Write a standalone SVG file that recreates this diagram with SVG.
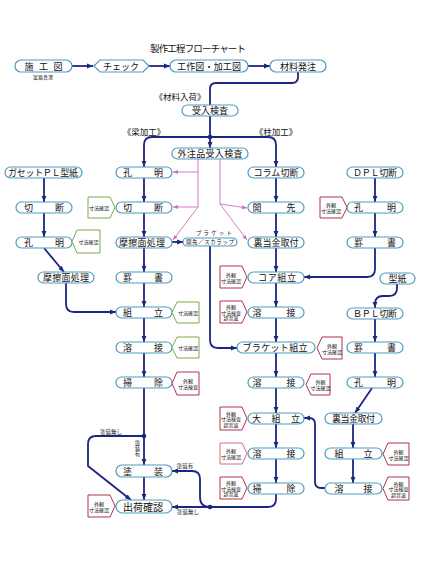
<svg xmlns="http://www.w3.org/2000/svg" width="421" height="578" viewBox="0 0 421 578">
<style>
.box{fill:#fff;stroke:#4a9cc0;stroke-width:1.2}
.t{font-family:"Noto Sans CJK JP","Noto Sans CJK SC",sans-serif;font-size:9px;fill:#111;text-anchor:middle;dominant-baseline:central}
.s{font-size:5px}
.m{font-size:5.5px}
.k{font-size:8.5px}
.v{writing-mode:vertical-rl}
.c{fill:none;stroke:#1c2580;stroke-width:1.8}
.p{fill:none;stroke:#d46bc0;stroke-width:0.9}
.tg{fill:#fff;stroke:#7aab45;stroke-width:1}
.tr{fill:#fff;stroke:#b3304e;stroke-width:1}
.tp{fill:#fff;stroke:#d0707f;stroke-width:1}
.dot{fill:#1c2580}
</style>
<defs>
<marker id="a" viewBox="0 0 10 10" refX="10" refY="5" markerWidth="6" markerHeight="6" orient="auto" markerUnits="userSpaceOnUse"><path d="M0,1 L10,5 L0,9 z" fill="#1c2580"/></marker>
<marker id="pa" viewBox="0 0 10 10" refX="10" refY="5" markerWidth="5" markerHeight="5" orient="auto" markerUnits="userSpaceOnUse"><path d="M0,1 L10,5 L0,9 z" fill="#d46bc0"/></marker>
</defs>
<rect width="421" height="578" fill="#fff"/>
<text class="t" x="198" y="48" style="font-size:9.5px" textLength="96">製作工程フローチャート</text>

<g id="connectors">
<path class="c" marker-end="url(#a)" d="M72,66 H93"/>
<path class="c" marker-end="url(#a)" d="M149,66 H170"/>
<path class="c" marker-end="url(#a)" d="M248,66 H270"/>
<path class="c" d="M298,72 V77 Q298,83 292,83 H216 Q210,83 210,89 V105"/>
<path class="c" marker-end="url(#a)" d="M210,116 V148"/>
<path class="c" marker-end="url(#a)" d="M210,137 H152 Q144,137 144,145 V167"/>
<path class="c" marker-end="url(#a)" d="M210,137 H268 Q276,137 276,145 V167"/>
<path class="c" marker-end="url(#a)" d="M144,178 V202"/>
<path class="c" marker-end="url(#a)" d="M144,213 V237"/>
<path class="c" marker-end="url(#a)" d="M144,248 V272"/>
<path class="c" marker-end="url(#a)" d="M144,283 V307"/>
<path class="c" marker-end="url(#a)" d="M144,318 V342"/>
<path class="c" marker-end="url(#a)" d="M144,353 V377"/>
<path class="c" marker-end="url(#a)" d="M144,388 V465"/>
<path class="c" marker-end="url(#a)" d="M144,477 V500"/>
<path class="c" marker-end="url(#a)" d="M144,436 H96 Q88,436 88,444 V466 L131,500"/>
<path class="c" marker-end="url(#a)" d="M210,507 H172"/>
<path class="c" marker-end="url(#a)" d="M210,507 Q200,507 200,497 V479 Q200,471 192,471 H172"/>
<path class="c" d="M276,494 V499 Q276,507 268,507 H210"/>
<path class="c" marker-end="url(#a)" d="M276,178 V202"/>
<path class="c" marker-end="url(#a)" d="M276,213 V237"/>
<path class="c" marker-end="url(#a)" d="M276,248 V272"/>
<path class="c" marker-end="url(#a)" d="M276,283 V307"/>
<path class="c" marker-end="url(#a)" d="M276,318 V342"/>
<path class="c" marker-end="url(#a)" d="M276,353 V377"/>
<path class="c" marker-end="url(#a)" d="M276,388 V413"/>
<path class="c" marker-end="url(#a)" d="M276,424 V448"/>
<path class="c" marker-end="url(#a)" d="M276,459 V483"/>
<path class="c" marker-end="url(#a)" d="M210,246 V340 Q210,348 218,348 H237"/>
<path class="c" marker-end="url(#a)" d="M172,242 H183"/>
<path class="c" marker-end="url(#a)" d="M44,178 V202"/>
<path class="c" marker-end="url(#a)" d="M44,213 V237"/>
<path class="c" marker-end="url(#a)" d="M44,248 L64,272"/>
<path class="c" marker-end="url(#a)" d="M66,283 V304 Q66,312 74,312 H116"/>
<path class="c" marker-end="url(#a)" d="M375,178 V202"/>
<path class="c" marker-end="url(#a)" d="M375,213 V237"/>
<path class="c" marker-end="url(#a)" d="M375,248 V269 Q375,277 367,277 H304"/>
<path class="c" marker-end="url(#a)" d="M397,284 V288 Q397,296 389,296 H383 Q375,296 375,304 V308"/>
<path class="c" marker-end="url(#a)" d="M375,319 V342"/>
<path class="c" marker-end="url(#a)" d="M375,353 V377"/>
<path class="c" marker-end="url(#a)" d="M372,388 L355,413"/>
<path class="c" marker-end="url(#a)" d="M353,424 V448"/>
<path class="c" marker-end="url(#a)" d="M353,459 V483"/>
<path class="c" marker-end="url(#a)" d="M325,488 H321 Q315,488 315,482 V424 Q315,418 309,418 H304"/>
<path class="p" d="M198,159 V207 L173,240" marker-end="url(#pa)"/>
<path class="p" marker-end="url(#pa)" d="M198,172 H173"/>
<path class="p" marker-end="url(#pa)" d="M198,207 H173"/>
<path class="p" marker-end="url(#pa)" d="M220,159 V204 L247,208"/>
<path class="p" marker-end="url(#pa)" d="M220,204 L247,240"/>
<circle class="dot" cx="210" cy="137" r="2.3"/>
<circle class="dot" cx="144" cy="436" r="2.3"/>
<circle class="dot" cx="210" cy="507" r="2.3"/>
<text class="t m" x="111" y="432">塗装無し</text>
<text class="t m v" x="137.5" y="448">塗装有</text>
<text class="t m" x="185" y="466">塗装有</text>
<text class="t m" x="188" y="512">塗装無し</text>
<text class="t m" x="214" y="233" textLength="36">ブラケット</text>
</g>

<g id="n-sekouzu"><rect class="box" x="15" y="60" width="57" height="12" rx="6"/><text class="t" x="43.5" y="66" textLength="38">施工図</text><text class="t s" x="43" y="76">富島真澤</text></g>
<g id="n-check"><polygon class="box" points="94,66 100,60 143,60 149,66 143,72 100,72"/><text class="t" x="121" y="66" textLength="36">チェック</text></g>
<g id="n-kousakuzu"><rect class="box" x="170" y="60" width="78" height="12" rx="6"/><text class="t" x="209" y="66" textLength="64">工作図・加工図</text></g>
<g id="n-hacchu"><rect class="box" x="270" y="60" width="56" height="12" rx="6"/><text class="t" x="298" y="66">材料発注</text></g>
<text class="t k" x="180" y="96">《材料入荷》</text>
<g id="n-ukeire"><rect class="box" x="182" y="105" width="56" height="11" rx="5.5"/><text class="t" x="210" y="110.5">受入検査</text></g>
<text class="t k" x="144" y="131">《梁加工》</text>
<text class="t k" x="276" y="131">《柱加工》</text>
<g id="n-gaichu"><rect class="box" x="172" y="148" width="76" height="11" rx="5.5"/><text class="t" x="210" y="153.5" textLength="65">外注品受入検査</text></g>

<g id="n-b-koumei"><rect class="box" x="116" y="167" width="56" height="11" rx="5.5"/><text class="t" x="143" y="172.5" textLength="40">孔明</text></g>
<g id="n-b-setsudan"><rect class="box" x="116" y="202" width="56" height="11" rx="5.5"/><text class="t" x="143" y="207.5" textLength="40">切断</text></g>
<g id="n-b-masatsu"><rect class="box" x="116" y="237" width="56" height="11" rx="5.5"/><text class="t" x="142" y="242.5" textLength="46">摩擦面処理</text></g>
<g id="n-b-kegaki"><rect class="box" x="116" y="272" width="56" height="11" rx="5.5"/><text class="t" x="143" y="277.5" textLength="40">罫書</text></g>
<g id="n-b-kumitate"><rect class="box" x="116" y="307" width="56" height="11" rx="5.5"/><text class="t" x="143" y="312.5" textLength="40">組立</text></g>
<g id="n-b-yousetsu"><rect class="box" x="116" y="342" width="56" height="11" rx="5.5"/><text class="t" x="143" y="347.5" textLength="40">溶接</text></g>
<g id="n-b-souji"><rect class="box" x="116" y="377" width="56" height="11" rx="5.5"/><text class="t" x="143" y="382.5" textLength="40">掃除</text></g>
<g id="n-tosou"><rect class="box" x="116" y="465" width="56" height="12" rx="6"/><text class="t" x="143" y="471" textLength="40">塗装</text></g>
<g id="n-shukka"><rect class="box" x="116" y="500" width="56" height="13" rx="6.5"/><text class="t" x="143" y="506.5" style="font-size:10px" textLength="40">出荷確認</text></g>

<g id="n-g-kata"><rect class="box" x="5" y="167" width="77" height="11" rx="5.5"/><text class="t" x="43" y="172.5" textLength="70">ガセットＰＬ型紙</text></g>
<g id="n-g-setsudan"><rect class="box" x="16" y="202" width="56" height="11" rx="5.5"/><text class="t" x="44" y="207.5" textLength="40">切断</text></g>
<g id="n-g-koumei"><rect class="box" x="16" y="237" width="56" height="11" rx="5.5"/><text class="t" x="44" y="242.5" textLength="40">孔明</text></g>
<g id="n-g-masatsu"><rect class="box" x="38" y="272" width="56" height="11" rx="5.5"/><text class="t" x="66" y="277.5" textLength="46">摩擦面処理</text></g>

<g id="n-bracket-kaisaki"><rect class="box" x="183" y="238" width="54" height="8" rx="4"/><text class="t" x="210" y="242" style="font-size:5.5px" textLength="48">開先／スカラップ</text></g>

<g id="n-c-column"><rect class="box" x="248" y="167" width="56" height="11" rx="5.5"/><text class="t" x="276" y="172.5" textLength="45">コラム切断</text></g>
<g id="n-c-kaisaki"><rect class="box" x="248" y="202" width="56" height="11" rx="5.5"/><text class="t" x="274" y="207.5" textLength="43">開先</text></g>
<g id="n-c-uraate"><rect class="box" x="248" y="237" width="56" height="11" rx="5.5"/><text class="t" x="276" y="242.5" textLength="45">裏当金取付</text></g>
<g id="n-c-core"><rect class="box" x="248" y="272" width="56" height="11" rx="5.5"/><text class="t" x="277" y="277.5" textLength="38">コア組立</text></g>
<g id="n-c-yousetsu1"><rect class="box" x="248" y="307" width="56" height="11" rx="5.5"/><text class="t" x="274" y="312.5" textLength="43">溶接</text></g>
<g id="n-c-bracket"><rect class="box" x="237" y="342" width="78" height="11" rx="5.5"/><text class="t" x="275" y="347.5" textLength="65">ブラケット組立</text></g>
<g id="n-c-yousetsu2"><rect class="box" x="248" y="377" width="56" height="11" rx="5.5"/><text class="t" x="274" y="382.5" textLength="43">溶接</text></g>
<g id="n-c-ookumi"><rect class="box" x="248" y="413" width="56" height="11" rx="5.5"/><text class="t" x="276" y="418.5" textLength="48">大組立</text></g>
<g id="n-c-yousetsu3"><rect class="box" x="248" y="448" width="56" height="11" rx="5.5"/><text class="t" x="274" y="453.5" textLength="43">溶接</text></g>
<g id="n-c-souji"><rect class="box" x="248" y="483" width="56" height="11" rx="5.5"/><text class="t" x="274" y="488.5" textLength="43">掃除</text></g>

<g id="n-d-dpl"><rect class="box" x="347" y="167" width="56" height="11" rx="5.5"/><text class="t" x="375" y="172.5" textLength="44">ＤＰＬ切断</text></g>
<g id="n-d-koumei"><rect class="box" x="347" y="202" width="56" height="11" rx="5.5"/><text class="t" x="375" y="207.5" textLength="42">孔明</text></g>
<g id="n-d-kegaki"><rect class="box" x="347" y="237" width="56" height="11" rx="5.5"/><text class="t" x="375" y="242.5" textLength="42">罫書</text></g>
<g id="n-katagami"><rect class="box" x="380" y="273" width="35" height="11" rx="5.5"/><text class="t" x="397.5" y="278.5">型紙</text></g>
<g id="n-d-bpl"><rect class="box" x="347" y="308" width="56" height="11" rx="5.5"/><text class="t" x="375" y="313.5" textLength="44">ＢＰＬ切断</text></g>
<g id="n-d-kegaki2"><rect class="box" x="347" y="342" width="56" height="11" rx="5.5"/><text class="t" x="375" y="347.5" textLength="42">罫書</text></g>
<g id="n-d-koumei2"><rect class="box" x="347" y="377" width="56" height="11" rx="5.5"/><text class="t" x="375" y="382.5" textLength="42">孔明</text></g>
<g id="n-e-uraate"><rect class="box" x="325" y="413" width="57" height="11" rx="5.5"/><text class="t" x="353.5" y="418.5" textLength="43">裏当金取付</text></g>
<g id="n-e-kumitate"><rect class="box" x="325" y="448" width="57" height="11" rx="5.5"/><text class="t" x="353.5" y="453.5" textLength="38">組立</text></g>
<g id="n-e-yousetsu"><rect class="box" x="325" y="483" width="57" height="11" rx="5.5"/><text class="t" x="353.5" y="488.5" textLength="38">溶接</text></g>

<g id="tag1"><polygon class="tg" points="72,241.5 77,230 100,230 100,253 77,253"/><text class="t s" x="88.5" y="241.5">寸法確認</text></g>
<g id="tag2"><polygon class="tg" points="88,197 110,197 115,207.5 110,218 88,218"/><text class="t s" x="99" y="207.5">寸法確認</text></g>
<g id="tag3"><polygon class="tg" points="172,312.5 177,302 199,302 199,323 177,323"/><text class="t s" x="188" y="312.5">寸法確認</text></g>
<g id="tag4"><polygon class="tg" points="172,347.5 177,337 199,337 199,358 177,358"/><text class="t s" x="188" y="347.5">寸法確認</text></g>
<g id="tag5"><polygon class="tr" points="172,383.5 177,372 199,372 199,395 177,395"/><text class="t s" x="188" y="380.5">外観</text><text class="t s" x="188" y="386.5">寸法検査</text></g>
<g id="tag6"><polygon class="tr" points="88,495 110,495 115,506 110,517 88,517"/><text class="t s" x="99" y="503">外観</text><text class="t s" x="99" y="509">寸法確認</text></g>
<g id="tag7"><polygon class="tr" points="320,197 342,197 347,207.5 342,218 320,218"/><text class="t s" x="331" y="204.5">外観</text><text class="t s" x="331" y="210.5">寸法確認</text></g>
<g id="tag8"><polygon class="tr" points="220,266 242,266 247,277 242,288 220,288"/><text class="t s" x="231" y="274">外観</text><text class="t s" x="231" y="280">寸法確認</text></g>
<g id="tag9"><polygon class="tr" points="220,301 242,301 247,312 242,323 220,323"/><text class="t s" x="231" y="306.5">外観</text><text class="t s" x="231" y="312">寸法検査</text><text class="t s" x="231" y="317.5">超音波</text></g>
<g id="tag10"><polygon class="tr" points="317,348 322,337 342,337 342,359 322,359"/><text class="t s" x="332" y="345">外観</text><text class="t s" x="332" y="351">寸法確認</text></g>
<g id="tag11"><polygon class="tr" points="306,384.5 311,374 330,374 330,395 311,395"/><text class="t s" x="320.5" y="381.5">外観</text><text class="t s" x="320.5" y="387.5">寸法確認</text></g>
<g id="tag12"><polygon class="tr" points="220,407 242,407 247,418.5 242,430 220,430"/><text class="t s" x="231" y="413">外観</text><text class="t s" x="231" y="418.5">寸法検査</text><text class="t s" x="231" y="424">超音波</text></g>
<g id="tag13"><polygon class="tp" points="220,443 242,443 247,453.5 242,464 220,464"/><text class="t s" x="231" y="450.5">外観</text><text class="t s" x="231" y="456.5">寸法確認</text></g>
<g id="tag14"><polygon class="tr" points="220,477 242,477 247,488 242,499 220,499"/><text class="t s" x="231" y="482.5">外観</text><text class="t s" x="231" y="488">寸法検査</text><text class="t s" x="231" y="493.5">超音波</text></g>
<g id="tag15"><polygon class="tr" points="383,454 388,443 409,443 409,465 388,465"/><text class="t s" x="398.5" y="451">外観</text><text class="t s" x="398.5" y="457">寸法確認</text></g>
<g id="tag16"><polygon class="tr" points="383,488.5 388,477 409,477 409,500 388,500"/><text class="t s" x="398.5" y="483">外観</text><text class="t s" x="398.5" y="488.5">寸法検査</text><text class="t s" x="398.5" y="494">超音波</text></g>
</svg>
